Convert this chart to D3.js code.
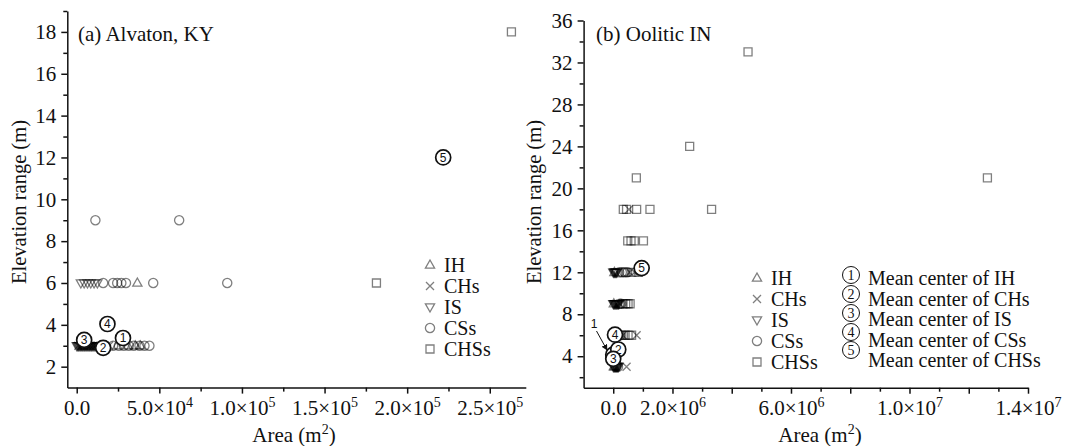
<!DOCTYPE html>
<html>
<head>
<meta charset="utf-8">
<script src="https://cdn.jsdelivr.net/npm/d3@7"></script>
<style>
  body { margin: 0; background: #fff; }
  svg text { font-family: "Liberation Serif", "Times New Roman", serif; fill: #111; }
</style>
</head>
<body>
<div id="chart"></div>
<script>
// ---- panel (a) Alvaton, KY : [area m2, elevation range m]
const aIH   = [[36700, 6], [24500, 3], [31000, 3], [35500, 3], [38500, 3]];
const aCHs  = [[1000, 3], [3000, 3], [4500, 3], [6500, 3], [8000, 3], [10000, 3], [11500, 3],
               [13000, 3], [15000, 3], [17000, 3], [19500, 3]];
const aIS   = [[2500, 6], [4500, 6], [6500, 6], [8500, 6], [10500, 6], [12500, 6],
               [0, 3], [400, 3], [900, 3], [1300, 3], [1800, 3], [2300, 3], [2700, 3], [3200, 3],
               [3600, 3], [4100, 3], [4600, 3], [5000, 3], [5500, 3], [6000, 3], [6400, 3],
               [6900, 3], [7400, 3], [7800, 3], [8300, 3], [8800, 3], [9200, 3], [9700, 3],
               [10200, 3], [10700, 3], [11200, 3], [11800, 3], [12400, 3], [13000, 3]];
const aCSs  = [[11300, 9], [62000, 9],
               [16000, 6], [22000, 6], [24500, 6], [27000, 6], [29800, 6], [46300, 6], [91100, 6],
               [22000, 3], [25500, 3], [28500, 3], [31500, 3], [34500, 3], [38000, 3], [41000, 3], [44000, 3]];
const aCHSs = [[181400, 6], [263100, 18]];
const aMeans = [[28000, 3.37], [16000, 2.9], [4500, 3.28], [18600, 4.04], [221800, 12]];

// ---- panel (b) Oolitic IN
const bIH   = [[20000, 3], [50000, 3], [30000, 6], [20000, 9], [40000, 12]];
const bCHs  = [[450000, 3], [320000, 6], [790000, 6], [220000, 9], [550000, 12], [720000, 12], [530000, 18]];
const bIS   = [[0, 3], [20000, 3], [35000, 3], [55000, 3], [70000, 3], [90000, 3], [105000, 3],
               [125000, 3], [140000, 3], [160000, 3], [180000, 3],
               [0, 6], [20000, 6], [40000, 6], [60000, 6], [80000, 6], [100000, 6],
               [0, 9], [15000, 9], [35000, 9], [50000, 9], [70000, 9], [85000, 9], [105000, 9],
               [120000, 9], [140000, 9], [160000, 9], [175000, 9], [195000, 9],
               [0, 12], [20000, 12], [35000, 12], [55000, 12], [70000, 12], [90000, 12],
               [105000, 12], [125000, 12]];
const bCSs  = [[100000, 3], [160000, 3], [170000, 6], [230000, 6], [220000, 9], [270000, 9],
               [200000, 12], [290000, 12], [380000, 12], [470000, 12]];
const bCHSs = [[290000, 6], [400000, 6], [500000, 6], [620000, 6],
               [330000, 9], [420000, 9], [500000, 9], [570000, 9],
               [420000, 12], [630000, 12], [850000, 12],
               [490000, 15], [600000, 15], [710000, 15], [1020000, 15],
               [340000, 18], [450000, 18], [790000, 18], [1240000, 18], [3320000, 18],
               [780000, 21], [12630000, 21], [2580000, 24], [4550000, 33]];
const bMeans = [[0, 4.15], [170000, 4.64], [0, 3.75], [60000, 6.05], [960000, 12.4]];

const seriesNames = ["IH", "CHs", "IS", "CSs", "CHSs"];
const seriesShapes = ["up", "x", "down", "circle", "square"];
const meanLabels = ["Mean center of IH", "Mean center of CHs", "Mean center of IS",
                    "Mean center of CSs", "Mean center of CHSs"];

// axis ticks
const aXTicks = [0, 5e4, 1e5, 1.5e5, 2e5, 2.5e5];
const aXLabels = [["0.0"], ["5.0", 4], ["1.0", 5], ["1.5", 5], ["2.0", 5], ["2.5", 5]];
const aXMinor = [2.5e4, 7.5e4, 1.25e5, 1.75e5, 2.25e5];
const aYTicks = [2, 4, 6, 8, 10, 12, 14, 16, 18];
const aYMinor = [3, 5, 7, 9, 11, 13, 15, 17, 19];

const bXTicks = [0, 2e6, 4e6, 6e6, 8e6, 1e7, 1.2e7, 1.4e7];
const bXLabels = [["0.0"], ["2.0", 6], null, ["6.0", 6], null, ["1.0", 7], null, ["1.4", 7]];
const bXMinor = [1e6, 3e6, 5e6, 7e6, 9e6, 1.1e7, 1.3e7];
const bYTicks = [4, 8, 12, 16, 20, 24, 28, 32, 36];
const bYMinor = [2, 6, 10, 14, 18, 22, 26, 30, 34];

const width = 1074, height = 446;
const fs = "21px", fsSup = "14px", fsLegend = "20px";
const svg = d3.select("#chart").append("svg")
    .attr("width", width).attr("height", height);

svg.append("defs").append("marker")
    .attr("id", "arrow").attr("viewBox", "0 0 10 10")
    .attr("refX", 9).attr("refY", 5)
    .attr("markerWidth", 6).attr("markerHeight", 6)
    .attr("orient", "auto")
    .append("path").attr("d", "M0,0L10,5L0,10Z").attr("fill", "#111");

function shapePath(type) {
    if (type === "up") return "M0,-5L4.6,3.2L-4.6,3.2Z";
    if (type === "down") return "M0,5L4.6,-3.2L-4.6,-3.2Z";
    if (type === "x") return "M-4,-4L4,4M-4,4L4,-4";
    if (type === "square") return "M-4,-4H4V4H-4Z";
    return d3.arc()({innerRadius: 0, outerRadius: 4.6, startAngle: 0, endAngle: 2 * Math.PI});
}

function drawPoints(g, data, type, x, y) {
    g.selectAll(null).data(data).enter().append("path")
        .attr("d", shapePath(type))
        .attr("transform", d => `translate(${x(d[0])},${y(d[1])})`)
        .attr("fill", "none")
        .attr("stroke", "#000")
        .attr("stroke-opacity", 0.5)
        .attr("stroke-width", 1.3);
}

// noLabel: index of a mean center whose digit is given by an outside annotation
function drawMeans(g, data, x, y, noLabel) {
    const m = g.selectAll(null).data(data).enter().append("g")
        .attr("transform", d => `translate(${x(d[0])},${y(d[1])})`);
    m.append("circle").attr("r", 7.5)
        .attr("fill", "#fff").attr("stroke", "#111").attr("stroke-width", 1.7);
    m.filter((d, i) => i !== noLabel).append("text").text(d => data.indexOf(d) + 1)
        .attr("text-anchor", "middle").attr("dy", "0.36em")
        .style("font-family", "'Liberation Sans', Arial, sans-serif")
        .style("font-size", "12px");
}

function drawAxes(x, y, xTicks, xLabels, xMinor, yTicks, yMinor, yTitleX, xTitleX) {
    const y0 = y.range()[0];
    const x0 = x.range()[0];

    const gx = svg.append("g").attr("transform", `translate(0,${y0})`)
        .call(d3.axisBottom(x).tickValues(xTicks).tickSize(6).tickSizeOuter(0).tickFormat(""));
    svg.append("g").attr("transform", `translate(0,${y0})`)
        .call(d3.axisBottom(x).tickValues(xMinor).tickSize(4).tickSizeOuter(0).tickFormat(""))
        .select(".domain").remove();

    gx.selectAll(".tick").each(function (d, i) {
        const lab = xLabels[i];
        if (!lab) return;
        const t = d3.select(this).append("text")
            .attr("y", 27).attr("text-anchor", "middle")
            .style("font-size", fs);
        if (lab.length === 1) {
            t.text(lab[0]);
        } else {
            t.append("tspan").text(lab[0] + "×10");
            t.append("tspan").text(lab[1]).attr("dy", -8).style("font-size", fsSup);
        }
    });

    const gy = svg.append("g").attr("transform", `translate(${x0},0)`)
        .call(d3.axisLeft(y).tickValues(yTicks).tickSize(6).tickSizeOuter(0));
    svg.append("g").attr("transform", `translate(${x0},0)`)
        .call(d3.axisLeft(y).tickValues(yMinor).tickSize(4).tickSizeOuter(0).tickFormat(""))
        .select(".domain").remove();
    gy.selectAll(".tick text").attr("x", -11).style("font-size", fs);

    svg.selectAll(".domain, .tick line").attr("stroke", "#111").attr("stroke-width", 1.5);

    svg.append("text")
        .attr("transform", `translate(${yTitleX},202) rotate(-90)`)
        .attr("text-anchor", "middle").attr("dy", "0.35em")
        .style("font-size", "20.5px").text("Elevation range (m)");

    const xt = svg.append("text").attr("x", xTitleX).attr("y", 442)
        .attr("text-anchor", "middle").style("font-size", fs);
    xt.append("tspan").text("Area (m");
    xt.append("tspan").text("2").attr("dy", -8).style("font-size", fsSup);
    xt.append("tspan").text(")").attr("dy", 8);
}

function drawLegend(g, lx, rows) {
    seriesNames.forEach((name, i) => {
        g.append("path").attr("d", shapePath(seriesShapes[i]))
            .attr("transform", `translate(${lx},${rows[i]})`)
            .attr("fill", "none").attr("stroke", "#000")
            .attr("stroke-opacity", 0.5).attr("stroke-width", 1.3);
        g.append("text").attr("x", lx + 14).attr("y", rows[i]).attr("dy", "0.35em")
            .style("font-size", fsLegend).text(name);
    });
}

// ---------- panel (a)
const xa = d3.scaleLinear([-5700, 271800], [67.3, 525.8]);
const ya = d3.scaleLinear([1, 19], [387.6, 11]);
drawAxes(xa, ya, aXTicks, aXLabels, aXMinor, aYTicks, aYMinor, 19, 294);

const ga = svg.append("g");
[aIH, aCHs, aIS, aCSs, aCHSs].forEach((s, i) => drawPoints(ga, s, seriesShapes[i], xa, ya));
drawMeans(ga, aMeans, xa, ya, -1);
ga.append("text").attr("x", 78).attr("y", 41).style("font-size", fs).text("(a) Alvaton, KY");
drawLegend(ga, 430, [265, 286, 307, 328, 349]);

// ---------- panel (b)
const xb = d3.scaleLinear([-1e6, 1.4e7], [583.6, 1028]);
const yb = d3.scaleLinear([1, 36], [387.7, 20.5]);
drawAxes(xb, yb, bXTicks, bXLabels, bXMinor, bYTicks, bYMinor, 534, 820);

const gb = svg.append("g");
[bIH, bCHs, bIS, bCSs, bCHSs].forEach((s, i) => drawPoints(gb, s, seriesShapes[i], xb, yb));
drawMeans(gb, bMeans, xb, yb, 0);
gb.append("text").attr("x", 596).attr("y", 41).style("font-size", fs).text("(b) Oolitic IN");
gb.append("text").attr("x", 594).attr("y", 328)
    .attr("text-anchor", "middle")
    .style("font-family", "'Liberation Sans', Arial, sans-serif").style("font-size", "12px").text("1");
gb.append("line")
    .attr("x1", 596.5).attr("y1", 331).attr("x2", 607).attr("y2", 350)
    .attr("stroke", "#111").attr("stroke-width", 1).attr("marker-end", "url(#arrow)");
drawLegend(gb, 757, [278, 299, 320, 341, 362]);

// mean center legend
const mRows = [278, 298.5, 319, 339.5, 360];
const mCircle = [275, 294, 313, 332, 350];
meanLabels.forEach((lab, i) => {
    gb.append("circle").attr("cx", 851).attr("cy", mCircle[i]).attr("r", 8.5)
        .attr("fill", "none").attr("stroke", "#111").attr("stroke-width", 1);
    gb.append("text").attr("x", 851).attr("y", mCircle[i]).attr("dy", "0.34em")
        .attr("text-anchor", "middle").style("font-size", "14px").text(i + 1);
    gb.append("text").attr("x", 868).attr("y", mRows[i]).attr("dy", "0.35em")
        .style("font-size", fsLegend).text(lab);
});
</script>
</body>
</html>
